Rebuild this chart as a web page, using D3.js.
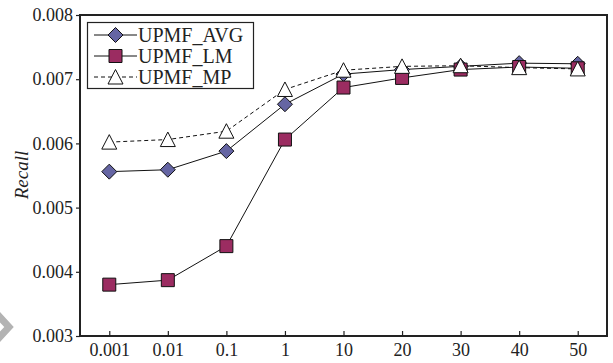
<!DOCTYPE html>
<html>
<head>
<meta charset="utf-8">
<script src="https://cdn.jsdelivr.net/npm/d3@7/dist/d3.min.js"></script>
<style>
  html, body { margin: 0; padding: 0; background: #fff; }
  svg { display: block; }
  text { font-family: "Liberation Serif", "Times New Roman", serif; fill: #222; }
</style>
</head>
<body>
<svg id="chart" width="613" height="363"></svg>
<script>
// Regularisation parameter values on the x axis
const categories = ["0.001", "0.01", "0.1", "1", "10", "20", "30", "40", "50"];

// Recall for each method
const upmfAvg = [0.00556, 0.00559, 0.00588, 0.00661, 0.00708, 0.00715, 0.00720, 0.00725, 0.00724];
const upmfLm  = [0.00380, 0.00387, 0.00440, 0.00606, 0.00687, 0.00702, 0.00715, 0.00719, 0.00717];
const upmfMp  = [0.00602, 0.00606, 0.00619, 0.00684, 0.00714, 0.00720, 0.00721, 0.00718, 0.00716];

const yTicks = [0.003, 0.004, 0.005, 0.006, 0.007, 0.008];

const series = [
  { name: "UPMF_AVG", values: upmfAvg, marker: "diamond",  fill: "#6565a3", dash: null },
  { name: "UPMF_LM",  values: upmfLm,  marker: "square",   fill: "#9b2c61", dash: null },
  { name: "UPMF_MP",  values: upmfMp,  marker: "triangle", fill: "#ffffff", dash: "4,3" }
];

const svg = d3.select("#chart");
const margin = { left: 80, right: 6, top: 15, bottom: 27 };
const W = 613, H = 363;
const x0 = margin.left, x1 = W - margin.right;
const y0 = H - margin.bottom, y1 = margin.top;

const x = d3.scalePoint().domain(categories).range([x0, x1]).padding(0.5);
const y = d3.scaleLinear().domain([0.003, 0.008]).range([y0, y1]);

// Marker shapes
function markerPath(type) {
  if (type === "diamond") return "M0,-7.5L7.5,0L0,7.5L-7.5,0Z";
  if (type === "square") return "M-6.5,-6.5H6.5V6.5H-6.5Z";
  return "M0,-7.5L7.5,7L-7.5,7Z";
}

// Frame
svg.append("rect")
  .attr("x", x0).attr("y", y1)
  .attr("width", x1 - x0).attr("height", y0 - y1)
  .attr("fill", "none").attr("stroke", "#222").attr("stroke-width", 2);

// Y axis
const yAxis = d3.axisLeft(y).tickValues(yTicks).tickFormat(d3.format(".3f")).tickSize(4).tickPadding(3);
const gy = svg.append("g").attr("transform", `translate(${x0},0)`).call(yAxis);
gy.select(".domain").remove();
gy.selectAll(".tick line").attr("stroke", "#222").attr("stroke-width", 1.2);
gy.selectAll(".tick text").style("font-size", "18px").style("font-family", "Liberation Serif, serif").attr("fill", "#222");

// X axis (ticks point inward)
const xAxis = d3.axisBottom(x).tickSize(-5).tickPadding(7);
const gx = svg.append("g").attr("transform", `translate(0,${y0})`).call(xAxis);
gx.select(".domain").remove();
gx.selectAll(".tick line").attr("stroke", "#222").attr("stroke-width", 1.2);
gx.selectAll(".tick text").style("font-size", "18px").style("font-family", "Liberation Serif, serif").attr("fill", "#222");

// Y label
svg.append("text")
  .attr("transform", `translate(28,175) rotate(-90)`)
  .attr("text-anchor", "middle")
  .style("font-size", "19px").style("font-style", "italic")
  .text("Recall");

// Lines
const line = d3.line().x((d, i) => x(categories[i])).y(d => y(d));
series.forEach(s => {
  svg.append("path")
    .datum(s.values)
    .attr("d", line)
    .attr("fill", "none")
    .attr("stroke", "#111")
    .attr("stroke-width", 1)
    .attr("stroke-dasharray", s.dash);
});

// Markers
series.forEach(s => {
  svg.append("g").selectAll("path")
    .data(s.values)
    .join("path")
    .attr("transform", (d, i) => `translate(${x(categories[i])},${y(d)})`)
    .attr("d", markerPath(s.marker))
    .attr("fill", s.fill)
    .attr("stroke", "#111")
    .attr("stroke-width", 1);
});

// Legend
const lg = svg.append("g");
lg.append("rect")
  .attr("x", 87.5).attr("y", 22.5).attr("width", 166).attr("height", 66)
  .attr("fill", "#fff").attr("stroke", "#222").attr("stroke-width", 1.2);
series.forEach((s, i) => {
  const cy = 35 + i * 21;
  lg.append("line")
    .attr("x1", 94).attr("x2", 137).attr("y1", cy).attr("y2", cy)
    .attr("stroke", "#111").attr("stroke-width", 1)
    .attr("stroke-dasharray", s.dash);
  lg.append("path")
    .attr("transform", `translate(115.5,${cy})`)
    .attr("d", markerPath(s.marker))
    .attr("fill", s.fill).attr("stroke", "#111").attr("stroke-width", 1);
  lg.append("text")
    .attr("x", 138).attr("y", cy + 7)
    .style("font-size", "20px")
    .text(s.name);
});

// Grey chevron in the lower-left corner
svg.append("polyline")
  .attr("points", "-3,314 9,327 -3,340")
  .attr("fill", "none").attr("stroke", "#b3b3b3").attr("stroke-width", 7);
</script>
</body>
</html>
